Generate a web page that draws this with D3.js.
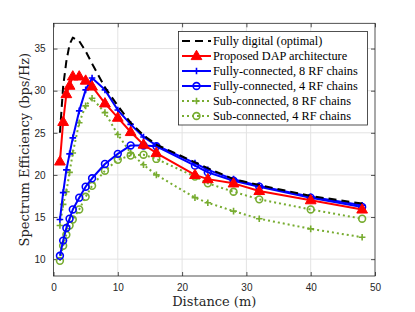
<!DOCTYPE html>
<html>
<head>
<meta charset="utf-8">
<script src="https://cdn.jsdelivr.net/npm/d3@7"></script>
<style>
  body { margin: 0; background: #fff; }
  svg { display: block; }
</style>
</head>
<body>
<svg id="chart"></svg>
<script>
// distances (m)
const distance = [1, 1.5, 2, 2.5, 3, 4, 5, 6, 8, 10, 12, 14, 16, 22, 24, 28, 32, 40, 48];

const fullyDigital = [25.0, 30.5, 33.5, 35.5, 36.3, 35.9, 34.7, 33.2, 30.4, 28.2, 26.2, 24.7, 23.6, 21.5, 20.8, 19.5, 18.8, 17.5, 16.6];
const proposedDAP  = [21.6, 26.3, 29.6, 30.6, 31.7, 31.7, 31.2, 30.5, 28.5, 26.8, 25.1, 23.6, 22.6, 20.0, 19.5, 19.0, 18.1, 17.0, 15.9];
const fully8       = [14.7, 17.9, 20.6, 22.5, 24.4, 27.6, 30.1, 31.5, 30.1, 27.7, 26.0, 24.5, 23.5, 21.4, 20.6, 19.5, 18.7, 17.4, 16.4];
const fully4       = [10.4, 12.2, 13.7, 14.8, 15.9, 17.3, 18.6, 19.6, 21.3, 22.5, 23.5, 23.5, 23.4, 21.1, 20.3, 19.3, 18.6, 17.3, 16.2];
const sub8         = [14.0, 16.5, 18.0, 20.3, 22.6, 26.2, 28.2, 29.1, 27.4, 24.8, 22.6, 21.2, 20.0, 17.3, 16.7, 15.7, 14.8, 13.6, 12.6];
const sub4         = [9.8, 11.6, 12.9, 14.0, 14.7, 15.9, 17.4, 18.7, 20.5, 21.8, 22.3, 22.4, 21.9, 19.8, 19.0, 18.0, 17.1, 15.9, 14.8];

const xTicks = [0, 10, 20, 30, 40, 50];
const yTicks = [10, 15, 20, 25, 30, 35];

const legendLabels = [
    "Fully digital (optimal)",
    "Proposed DAP architecture",
    "Fully-connected, 8 RF chains",
    "Fully-connected, 4 RF chains",
    "Sub-connected, 8 RF chains",
    "Sub-connected, 4 RF chains"
];

const w = 415;
const h = 312;
const mLeft = 53.5, mRight = 375, mTop = 23.3, mBottom = 276;

const green = "#77AC30";
const series = [
    { name: legendLabels[0], values: fullyDigital, color: "#000000", dash: "8,5", marker: "none" },
    { name: legendLabels[1], values: proposedDAP, color: "#ff0000", dash: null, marker: "triangle" },
    { name: legendLabels[2], values: fully8, color: "#0000ff", dash: null, marker: "plus" },
    { name: legendLabels[3], values: fully4, color: "#0000ff", dash: null, marker: "circle" },
    { name: legendLabels[4], values: sub8, color: green, dash: "2,3", marker: "plus" },
    { name: legendLabels[5], values: sub4, color: green, dash: "2,3", marker: "circle" }
];

const svg = d3.select("#chart")
    .attr("width", w)
    .attr("height", h);

const xScale = d3.scaleLinear().domain([0, 50]).range([mLeft, mRight]);
const yScale = d3.scaleLinear().domain([8, 38]).range([mBottom, mTop]);

// grid
svg.append("g")
    .selectAll("line")
    .data(xTicks.slice(1, -1))
    .enter()
    .append("line")
    .attr("x1", d => xScale(d)).attr("x2", d => xScale(d))
    .attr("y1", mTop).attr("y2", mBottom)
    .attr("stroke", "#e3e3e3").attr("stroke-width", 1);
svg.append("g")
    .selectAll("line")
    .data(yTicks)
    .enter()
    .append("line")
    .attr("x1", mLeft).attr("x2", mRight)
    .attr("y1", d => yScale(d)).attr("y2", d => yScale(d))
    .attr("stroke", "#e3e3e3").attr("stroke-width", 1);

// axes (MATLAB-style box, ticks inside)
const axisColor = "#262626";
function styleAxis(g) {
    g.select(".domain").remove();
    g.selectAll(".tick line").attr("stroke", axisColor).attr("stroke-width", 0.8);
    g.selectAll(".tick text")
        .attr("fill", axisColor)
        .attr("font-family", "Liberation Sans, Arial, sans-serif")
        .attr("font-size", "10px");
}
svg.append("g")
    .attr("transform", "translate(0," + mBottom + ")")
    .call(d3.axisBottom(xScale).tickValues(xTicks).tickSize(-4).tickPadding(8))
    .call(styleAxis);
svg.append("g")
    .attr("transform", "translate(0," + mTop + ")")
    .call(d3.axisTop(xScale).tickValues(xTicks).tickSize(-4).tickFormat(""))
    .call(styleAxis);
svg.append("g")
    .attr("transform", "translate(" + mLeft + ",0)")
    .call(d3.axisLeft(yScale).tickValues(yTicks).tickSize(-4).tickPadding(8))
    .call(styleAxis);
svg.append("g")
    .attr("transform", "translate(" + mRight + ",0)")
    .call(d3.axisRight(yScale).tickValues(yTicks).tickSize(-4).tickFormat(""))
    .call(styleAxis);

svg.append("rect")
    .attr("x", mLeft).attr("y", mTop)
    .attr("width", mRight - mLeft).attr("height", mBottom - mTop)
    .attr("fill", "none")
    .attr("stroke", axisColor)
    .attr("stroke-width", 0.8);

// markers
function drawMarker(g, type, color, x, y) {
    if (type === "triangle") {
        g.append("path")
            .attr("d", d3.symbol().type(d3.symbolTriangle).size(50)())
            .attr("transform", "translate(" + x + "," + (y + 0.5) + ")")
            .attr("fill", color)
            .attr("stroke", color)
            .attr("stroke-width", 1);
    } else if (type === "plus") {
        const s = 3.3;
        g.append("path")
            .attr("d", "M" + (x - s) + "," + y + "H" + (x + s) + "M" + x + "," + (y - s) + "V" + (y + s))
            .attr("stroke", color)
            .attr("stroke-width", 1.6)
            .attr("fill", "none");
    } else if (type === "circle") {
        g.append("circle")
            .attr("cx", x).attr("cy", y).attr("r", 3.4)
            .attr("fill", "none")
            .attr("stroke", color)
            .attr("stroke-width", 1.6);
    }
}

const line = d3.line()
    .x(d => xScale(d[0]))
    .y(d => yScale(d[1]));

// draw order: green, blue, black, red on top
const drawOrder = [5, 4, 3, 2, 0, 1];
drawOrder.forEach(function (i) {
    const s = series[i];
    const pts = distance.map((d, j) => [d, s.values[j]]);
    const g = svg.append("g");
    g.append("path")
        .datum(pts)
        .attr("d", line)
        .attr("fill", "none")
        .attr("stroke", s.color)
        .attr("stroke-width", 2)
        .attr("stroke-dasharray", s.dash)
        .attr("stroke-linejoin", "round");
    pts.forEach(function (p) {
        drawMarker(g, s.marker, s.color, xScale(p[0]), yScale(p[1]));
    });
});

// legend
const lg = svg.append("g");
lg.append("rect")
    .attr("x", 178.5).attr("y", 31.5)
    .attr("width", 189).attr("height", 93.5)
    .attr("fill", "#fff")
    .attr("stroke", axisColor)
    .attr("stroke-width", 0.8);
series.forEach(function (s, i) {
    const y = 41 + i * 15;
    lg.append("line")
        .attr("x1", 182).attr("x2", 211)
        .attr("y1", y).attr("y2", y)
        .attr("stroke", s.color)
        .attr("stroke-width", 2)
        .attr("stroke-dasharray", s.dash);
    drawMarker(lg, s.marker, s.color, 196.5, y);
    lg.append("text")
        .attr("x", 213)
        .attr("y", y + 4.2)
        .attr("font-family", "Liberation Serif, Times New Roman, serif")
        .attr("font-size", "12.3px")
        .attr("fill", "#000")
        .text(s.name);
});

// axis labels
svg.append("text")
    .attr("x", (mLeft + mRight) / 2)
    .attr("y", 306)
    .attr("text-anchor", "middle")
    .attr("font-family", "DejaVu Serif, serif")
    .attr("font-size", "13px")
    .attr("fill", axisColor)
    .text("Distance (m)");

svg.append("text")
    .attr("transform", "rotate(-90)")
    .attr("x", -(mTop + mBottom) / 2)
    .attr("y", 29)
    .attr("text-anchor", "middle")
    .attr("font-family", "DejaVu Serif, serif")
    .attr("font-size", "13px")
    .attr("fill", axisColor)
    .text("Spectrum Efficiency (bps/Hz)");
</script>
</body>
</html>
